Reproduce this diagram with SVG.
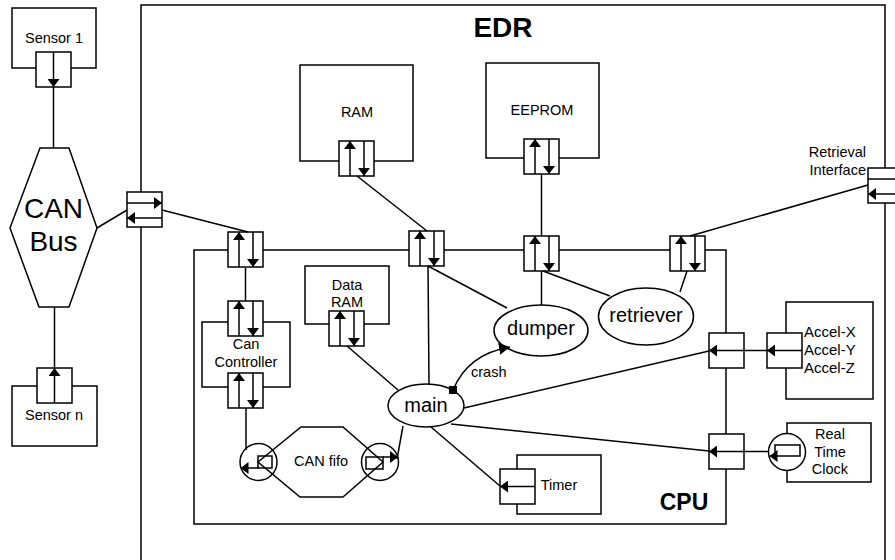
<svg xmlns="http://www.w3.org/2000/svg" xmlns:xlink="http://www.w3.org/1999/xlink" width="895" height="560" viewBox="0 0 895 560">
<style>
.b{fill:#fff;stroke:#000;stroke-width:1.5}
.o{fill:none;stroke:#000;stroke-width:1.5}
.c{fill:none;stroke:#000;stroke-width:1.5}
.a{stroke:#000;stroke-width:1.5;marker-end:url(#ah)}
text{font-family:"Liberation Sans",Arial,sans-serif;fill:#000}
.t{font-size:14.5px;text-anchor:middle}
.tl{font-size:15px}
.e{font-size:20px;text-anchor:middle}
.big{font-size:28px;text-anchor:middle}
.bold{font-weight:bold;text-anchor:middle}
</style>
<defs>
<marker id="ah" markerUnits="userSpaceOnUse" markerWidth="8" markerHeight="12" viewBox="0 0 8 12" refX="8" refY="6" orient="auto"><path d="M0,0 L8,6 L0,12 z" fill="#000"/></marker>
<marker id="ah2" markerUnits="userSpaceOnUse" markerWidth="11" markerHeight="12" viewBox="0 0 11 12" refX="11" refY="6" orient="auto"><path d="M0,0 L11,6 L0,12 z" fill="#000"/></marker>
<g id="pv"><rect class="b" x="0" y="0" width="35" height="35"/><line class="a" x1="11" y1="35" x2="11" y2="0"/><line class="a" x1="25" y1="0" x2="25" y2="35"/></g>
<g id="ph"><rect class="b" x="0" y="0" width="35" height="35"/><line class="a" x1="0" y1="11" x2="35" y2="11"/><line class="a" x1="35" y1="26" x2="0" y2="26"/></g>
<g id="pl"><rect class="b" x="0" y="0" width="35" height="35"/><line class="a" x1="35" y1="17.5" x2="0" y2="17.5"/></g>
</defs>

<g id="edr">
<rect class="o" x="141" y="5" width="744" height="600"/>
<text class="bold" x="503" y="37" font-size="28">EDR</text>
</g>

<g id="cpu">
<rect class="o" x="194" y="250" width="532" height="274"/>
<text class="bold" x="684" y="510" font-size="23">CPU</text>
</g>

<g id="sensor1">
<rect class="b" x="12" y="8" width="84" height="60"/>
<text class="t" x="54" y="43">Sensor 1</text>
<rect class="b" x="36" y="52" width="35" height="35"/>
<line class="a" x1="53.5" y1="52" x2="53.5" y2="87"/>
</g>

<g id="sensorn">
<rect class="b" x="12" y="386" width="85" height="60"/>
<text class="t" x="54" y="420">Sensor n</text>
<rect class="b" x="37" y="368" width="35" height="35"/>
<line class="a" x1="54.5" y1="403" x2="54.5" y2="368"/>
</g>

<g id="canbus">
<polygon class="b" points="40,148 69,148 97,228 69,307 39,307 10,228"/>
<text class="big" x="53.5" y="218">CAN</text>
<text class="big" x="53.5" y="251">Bus</text>
</g>

<g id="canport"><use xlink:href="#ph" x="127" y="192"/></g>

<g id="retrieval">
<text x="866" y="157" font-size="14.5" text-anchor="end">Retrieval</text>
<text x="866" y="175" font-size="14.5" text-anchor="end">Interface</text>
<use xlink:href="#ph" x="868" y="168"/>
</g>

<g id="ram">
<rect class="b" x="300" y="65" width="113" height="96"/>
<text class="t" x="357" y="117">RAM</text>
<use xlink:href="#pv" x="339" y="141"/>
</g>

<g id="eeprom">
<rect class="b" x="486" y="63" width="113" height="95"/>
<text class="t" x="542" y="115">EEPROM</text>
<use xlink:href="#pv" x="524" y="139"/>
</g>

<g id="cpu-ports">
<use xlink:href="#pv" x="228" y="232"/>
<use xlink:href="#pv" x="409" y="231"/>
<use xlink:href="#pv" x="524" y="236"/>
<use xlink:href="#pv" x="670" y="236"/>
<use xlink:href="#pl" x="709" y="333"/>
<use xlink:href="#pl" x="709" y="434"/>
</g>

<g id="dataram">
<rect class="b" x="305" y="266" width="84" height="58"/>
<text class="t" x="347" y="290">Data</text>
<text class="t" x="347" y="307">RAM</text>
<use xlink:href="#pv" x="329" y="311"/>
</g>

<g id="cancontroller">
<rect class="b" x="202" y="322" width="88" height="65"/>
<text class="t" x="246" y="349">Can</text>
<text class="t" x="246" y="367">Controller</text>
<use xlink:href="#pv" x="228" y="301"/>
<use xlink:href="#pv" x="228" y="373"/>
</g>

<g id="canfifo">
<polygon class="b" points="258,462 301,427 343,427 383,462 343,497 300,497"/>
<text class="t" x="321" y="466">CAN fifo</text>
<circle class="o" cx="258.5" cy="462" r="18.5"/>
<rect class="o" x="258" y="456" width="14" height="12"/>
<line class="a" x1="258" y1="468" x2="240.5" y2="468"/>
<circle class="o" cx="380" cy="462" r="18.5"/>
<rect class="o" x="366" y="457" width="17" height="12"/>
<line class="a" x1="383" y1="457" x2="398" y2="457"/>
</g>

<g id="main">
<ellipse class="b" cx="426" cy="405.5" rx="38" ry="21.5"/>
<text class="e" x="426" y="412" font-size="19">main</text>
</g>

<g id="dumper">
<ellipse class="b" cx="541" cy="330.5" rx="47" ry="25.5"/>
<text class="e" x="541" y="335">dumper</text>
</g>

<g id="retriever">
<ellipse class="b" cx="646" cy="316.5" rx="47.5" ry="28.5"/>
<text class="e" x="646" y="322">retriever</text>
</g>

<g id="timer">
<rect class="b" x="517" y="455" width="84" height="59"/>
<text class="t" x="559" y="490">Timer</text>
<use xlink:href="#pl" x="500" y="469"/>
</g>

<g id="accel">
<rect class="b" x="786" y="302" width="87" height="97"/>
<use xlink:href="#pl" x="767" y="333"/>
<text class="tl" x="804" y="337">Accel-X</text>
<text class="tl" x="804" y="355">Accel-Y</text>
<text class="tl" x="804" y="373">Accel-Z</text>
</g>

<g id="rtc">
<rect class="b" x="787" y="423" width="84" height="59"/>
<text class="t" x="830" y="439">Real</text>
<text class="t" x="830" y="457">Time</text>
<text class="t" x="830" y="474">Clock</text>
<circle class="b" cx="787" cy="452" r="18.5"/>
<rect class="o" x="775" y="445" width="25" height="11"/>
<line class="a" x1="775" y1="456" x2="769.5" y2="456"/>
</g>

<g id="connectors">
<line class="c" x1="53.5" y1="87" x2="53.5" y2="148"/>
<line class="c" x1="54.5" y1="307" x2="54.5" y2="368"/>
<line class="c" x1="97" y1="228" x2="127" y2="210"/>
<line class="c" x1="162" y1="210" x2="248" y2="232"/>
<line class="c" x1="245.5" y1="268" x2="245.5" y2="301"/>
<line class="c" x1="246" y1="408" x2="246" y2="450"/>
<line class="c" x1="357" y1="176" x2="427" y2="231"/>
<line class="c" x1="541.5" y1="174" x2="541.5" y2="236"/>
<line class="c" x1="868" y1="185" x2="690" y2="236"/>
<line class="c" x1="428" y1="266" x2="429" y2="384"/>
<line class="c" x1="428" y1="266" x2="507" y2="308"/>
<line class="c" x1="541.5" y1="271" x2="541.5" y2="305"/>
<line class="c" x1="543" y1="271" x2="610" y2="296"/>
<line class="c" x1="687" y1="271" x2="680" y2="292"/>
<line class="c" x1="347" y1="346" x2="398" y2="390"/>
<line class="c" x1="397" y1="459" x2="403" y2="426"/>
<line class="c" x1="464" y1="408" x2="709" y2="351"/>
<line class="c" x1="451" y1="424" x2="709" y2="451"/>
<line class="c" x1="431" y1="427" x2="500" y2="486"/>
<line class="c" x1="744" y1="350.5" x2="767" y2="350.5"/>
<line class="c" x1="744" y1="451.5" x2="768.5" y2="451.5"/>
<path class="c" d="M453,390 Q468,354 510,347" marker-end="url(#ah2)"/>
<rect x="449" y="386" width="8" height="8" fill="#000"/>
<text x="471" y="377" font-size="14.5">crash</text>
</g>
</svg>
